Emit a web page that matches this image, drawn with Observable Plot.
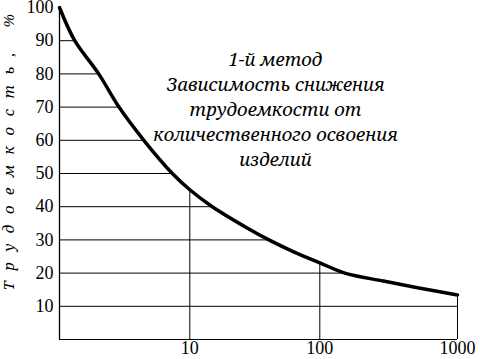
<!DOCTYPE html>
<html><head><meta charset="utf-8">
<script src="https://cdn.jsdelivr.net/npm/d3@7"></script>
<script src="https://cdn.jsdelivr.net/npm/@observablehq/plot@0.6"></script>
<style>html,body{margin:0;padding:0;background:#fff;}</style>
</head><body><div id="chart"></div>
<script>
// Curve: quantity of mastered items (log) vs labour intensity, %
const counts = [1, 1.31, 2.0, 2.86, 4.44, 7.35, 10, 14.9, 27.6, 40.6, 63, 100, 152, 290, 512, 1000];
const labor  = [100, 90, 80, 70, 60, 50, 45.1, 40, 33.6, 30, 26.4, 23.1, 20, 17.6, 15.6, 13.4];
const yTicks = [10, 20, 30, 40, 50, 60, 70, 80, 90, 100];
const xTicks = [10, 100, 1000];
const yTitle = "Трудоемкость, %";
const noteLines = ["1-й метод", "Зависимость снижения", "трудоемкости от", "количественного освоения", "изделий"];

const L = Math.log10;
function xAt(v) {
  for (let i = 0; i < labor.length - 1; i++) {
    if (labor[i] >= v && labor[i + 1] <= v) {
      const t = (labor[i] - v) / (labor[i] - labor[i + 1]);
      return 10 ** (L(counts[i]) + t * (L(counts[i + 1]) - L(counts[i])));
    }
  }
  return counts[counts.length - 1];
}
function yAt(c) {
  for (let i = 0; i < counts.length - 1; i++) {
    if (counts[i] <= c && counts[i + 1] >= c) {
      const t = (L(c) - L(counts[i])) / (L(counts[i + 1]) - L(counts[i]));
      return labor[i] + t * (labor[i + 1] - labor[i]);
    }
  }
  return labor[labor.length - 1];
}

const curve = counts.map((c, i) => ({x: c, y: labor[i]}));
const hGrid = yTicks.filter(v => v < 100).map(v => ({y: v, x1: counts[0], x2: xAt(v)}));
const vGrid = xTicks.map(c => ({x: c, y1: 0, y2: yAt(c)}));
const serif = "Liberation Serif, Times New Roman, serif";
const itSerif = "Noto Serif, DejaVu Serif, serif";

const chart = Plot.plot({
  width: 480,
  height: 359,
  marginTop: 7,
  marginBottom: 20,
  marginLeft: 59,
  marginRight: 23,
  style: {fontFamily: serif, background: "#fff", color: "#000"},
  x: {type: "log", domain: [1, 10, 100, 1000], range: [59, 189.3, 319.3, 457]},
  y: {domain: [0, 100]},
  marks: [
    Plot.ruleY(hGrid, {y: "y", x1: "x1", x2: "x2", stroke: "#000", strokeWidth: 1}),
    Plot.ruleY([0], {stroke: "#000", strokeWidth: 1}),
    Plot.ruleX(vGrid, {x: "x", y1: "y1", y2: "y2", stroke: "#000", strokeWidth: 1}),
    Plot.ruleX([counts[0]], {stroke: "#000", strokeWidth: 1.3}),
    Plot.line(curve, {x: "x", y: "y", stroke: "#000", strokeWidth: 3.5, curve: "catmull-rom"}),
    Plot.axisX({ticks: xTicks, tickSize: 0, tickPadding: 2, fontSize: 18, fontFamily: serif, tickFormat: d => String(d), label: null}),
    Plot.axisY({ticks: yTicks, tickSize: 0, tickPadding: 6, fontSize: 18, fontFamily: serif, label: null}),
    Plot.text([noteLines.join("\n")], {frameAnchor: "top-left", dx: 216, dy: 40.5, textAnchor: "middle", lineAnchor: "top", lineHeight: 1.35, fontSize: 18.5, fontFamily: itSerif, fontStyle: "italic", fill: "#000"}),
    Plot.text([yTitle], {frameAnchor: "bottom-left", dx: -46, dy: -49, rotate: -90, textAnchor: "start", fontSize: 15, fontFamily: itSerif, fontStyle: "italic", fill: "#000"})
  ]
});
d3.select(chart).selectAll("text").filter(function () { return this.textContent === yTitle; }).attr("letter-spacing", 10.5);
document.getElementById("chart").appendChild(chart);
</script>
</body></html>
